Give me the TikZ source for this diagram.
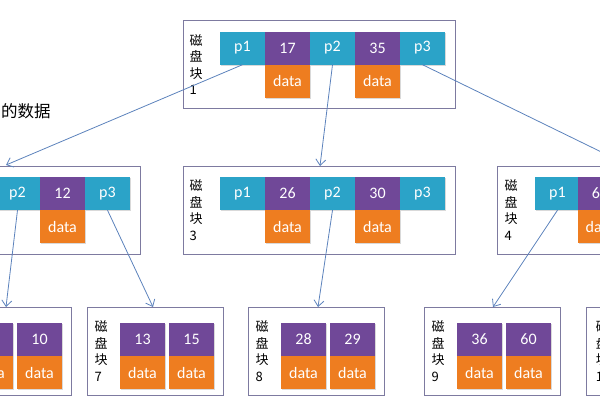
\documentclass[tikz,border=0pt]{standalone}
\usepackage{fontspec}
\setmainfont{Carlito}
\newfontfamily\cjk{Noto Sans CJK SC}
\usetikzlibrary{arrows.meta,shadows}

\definecolor{ptrcol}{RGB}{43,163,200}
\definecolor{keycol}{RGB}{112,72,152}
\definecolor{datcol}{RGB}{238,125,32}
\definecolor{boxcol}{RGB}{125,122,160}
\definecolor{linkcol}{RGB}{92,130,188}

\tikzset{
  cell/.style={minimum width=45pt, minimum height=33pt, inner sep=0pt, text=white,
    font=\fontsize{16}{16}\selectfont,
    drop shadow={shadow xshift=1.2pt, shadow yshift=-1.2pt, opacity=0.3}},
  ptr/.style={cell, fill=ptrcol},
  key/.style={cell, fill=keycol},
  dat/.style={cell, fill=datcol},
  blk/.style={draw=boxcol, line width=0.8pt, inner sep=0pt, minimum height=88pt},
  lbl/.style={font=\cjk\fontsize{13}{16.5}\selectfont, align=left, inner sep=0pt},
  link/.style={draw=linkcol, line width=0.8pt},
  arr/.style={link, -{Straight Barb[length=6pt,width=10pt]}}
}

\begin{document}
\begin{tikzpicture}[x=1pt,y=-1pt]
	\useasboundingbox (0,0) rectangle (600,400);
	\clip (0,0) rectangle (600,400);
	
	% note on the left
	\node[font=\cjk\fontsize{16.5}{20}\selectfont, anchor=west, inner sep=0pt] (note) at (1,111) {的数据};
	
	% blocks with pointers: number / x of first cell / y of key row / keys
	\foreach \n/\x/\y/\ka/\kb in {1/220/48/17/35, 3/220/193.5/26/30}{
		\node[blk, minimum width=272pt] (b\n) at (\x+99,\y+16.5) {};
		\node[lbl] (l\n) at (\x-24,\y+16.5) {磁\\盘\\块\\\n};
		\node[ptr] (b\n-p1) at (\x+22.5,\y) {p1};
		\node[key] (b\n-k1) at (\x+67.5,\y) {\ka};
		\node[ptr] (b\n-p2) at (\x+112.5,\y) {p2};
		\node[key] (b\n-k2) at (\x+157.5,\y) {\kb};
		\node[ptr] (b\n-p3) at (\x+202.5,\y) {p3};
		\node[dat] (b\n-d1) at (\x+67.5,\y+33) {data};
		\node[dat] (b\n-d2) at (\x+157.5,\y+33) {data};
	}
	
	% block 2, cut at the left edge
	\node[blk, minimum width=272pt] (b2) at (4,210) {};
	\node[ptr] (b2-p2) at (17.5,193.5) {p2};
	\node[key] (b2-k2) at (62.5,193.5) {12};
	\node[ptr] (b2-p3) at (107.5,193.5) {p3};
	\node[dat] (b2-d2) at (62.5,226.5) {data};
	
	% block 4, cut at the right edge
	\node[blk, minimum width=272pt] (b4) at (633,210) {};
	\node[lbl] (l4) at (511,210) {磁\\盘\\块\\4};
	\node[ptr] (b4-p1) at (557.5,193.5) {p1};
	\node[key] (b4-k1) at (600,193.5) {65};
	\node[dat] (b4-d1) at (600,226.5) {data};
	
	% leaf blocks: number / x of first cell / keys
	\foreach \n/\x/\ka/\kb in {7/120/13/15, 8/281/28/29, 9/457/36/60}{
		\node[blk, minimum width=136pt] (b\n) at (\x+35,351) {};
		\node[lbl] (l\n) at (\x-19,351) {磁\\盘\\块\\\n};
		\node[key] (b\n-k1) at (\x+22.5,339.5) {\ka};
		\node[key] (b\n-k2) at (\x+71.5,339.5) {\kb};
		\node[dat] (b\n-d1) at (\x+22.5,372.5) {data};
		\node[dat] (b\n-d2) at (\x+71.5,372.5) {data};
	}
	
	% leaf blocks 6 and 10, cut at the edges
	\node[blk, minimum width=136pt] (b6) at (3,351) {};
	\node[key] (b6-k1) at (-9.5,339.5) {};
	\node[key] (b6-k2) at (39.5,339.5) {10};
	\node[dat] (b6-d1) at (-9.5,372.5) {data};
	\node[dat] (b6-d2) at (39.5,372.5) {data};
	\node[blk, minimum width=136pt] (b10) at (654,351) {};
	\node[lbl] (l10) at (603,351) {磁\\盘\\块\\10};
	
	% where the arrows meet the blocks
	\coordinate (t2) at (6,165);
	\coordinate (t3) at (320,166);
	\coordinate (t4) at (628,165);
	\coordinate (t6) at (6,307);
	\coordinate (t7) at (153,307);
	\coordinate (t8) at (318,307);
	\coordinate (t9) at (493,307);
	
	% pointers
	\draw[arr] (b1-p1.south) -- (t2);
	\draw[arr] (b1-p2.south) -- (t3);
	\draw[arr] (b1-p3.south) -- (t4);
	\draw[arr] (b2-p2.south) -- (t6);
	\draw[arr] (b2-p3.south) -- (t7);
	\draw[arr] (b3-p2.south) -- (t8);
	\draw[arr] (b4-p1.south) -- (t9);
\end{tikzpicture}
\end{document}
